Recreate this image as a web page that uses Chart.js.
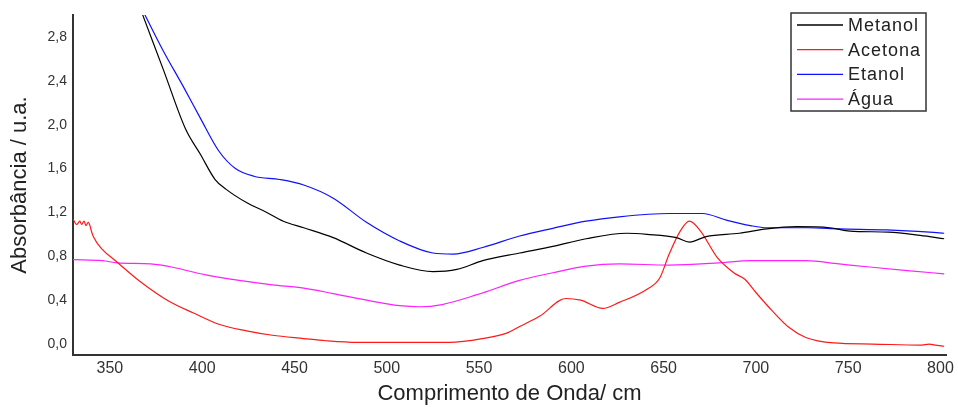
<!DOCTYPE html>
<html>
<head>
<meta charset="utf-8">
<script src="https://cdn.jsdelivr.net/npm/chart.js@4"></script>
<style>
  html, body { margin: 0; padding: 0; background: #fff; }
  canvas { display: block; }
</style>
</head>
<body>
<canvas id="uvChart" width="958" height="407"></canvas>
<script>
// Espectros UV-Vis por solvente (nm, absorbância)
const metanolNm = [360, 368, 379, 391, 399, 407, 413, 424, 435, 444, 455, 471, 489, 507, 525, 538, 552, 572, 590, 608, 630, 641, 657, 664, 673, 691, 706, 722, 740, 751, 772, 789, 802];
const metanolAbs = [3.35, 2.99, 2.50, 1.96, 1.73, 1.50, 1.41, 1.29, 1.20, 1.12, 1.06, 0.97, 0.83, 0.72, 0.66, 0.68, 0.76, 0.83, 0.89, 0.96, 1.01, 1.00, 0.97, 0.93, 0.98, 1.01, 1.05, 1.07, 1.06, 1.03, 1.02, 0.99, 0.96];

const acetonaNm = [330, 332, 333.7, 334.7, 336, 337, 338.2, 339.2, 339.8, 341, 346, 353, 366, 382, 395, 409, 424, 438, 455, 467, 484, 534, 552, 565, 572, 583, 597, 605, 617, 626, 641, 648, 653, 659, 664, 670, 679, 688, 694, 700, 709, 718, 727, 742, 763, 789, 794, 797, 802];
const acetonaAbs = [1.14, 1.09, 1.12, 1.09, 1.12, 1.08, 1.11, 1.08, 1.04, 0.98, 0.86, 0.76, 0.575, 0.39, 0.285, 0.18, 0.12, 0.08, 0.05, 0.03, 0.015, 0.015, 0.05, 0.10, 0.16, 0.255, 0.415, 0.40, 0.325, 0.38, 0.50, 0.605, 0.82, 1.03, 1.12, 1.03, 0.79, 0.65, 0.59, 0.47, 0.30, 0.15, 0.06, 0.01, 0.0, -0.01, 0.0, -0.01, -0.02];

const etanolNm = [360, 369, 379, 390, 399, 409, 418, 428, 442, 455, 471, 489, 507, 525, 536, 552, 572, 590, 608, 626, 653, 671, 684, 697, 706, 728, 745, 771, 794, 802];
const etanolAbs = [3.30, 3.00, 2.67, 2.34, 2.06, 1.76, 1.60, 1.53, 1.50, 1.45, 1.33, 1.11, 0.94, 0.83, 0.82, 0.88, 0.985, 1.055, 1.12, 1.16, 1.19, 1.19, 1.13, 1.08, 1.06, 1.06, 1.05, 1.04, 1.02, 1.01];

const aguaNm = [330, 346, 354, 372, 384, 402, 420, 438, 455, 471, 489, 507, 518, 530, 549, 572, 590, 608, 626, 653, 680, 697, 727, 745, 763, 782, 802];
const aguaAbs = [0.77, 0.76, 0.74, 0.73, 0.70, 0.63, 0.58, 0.54, 0.51, 0.46, 0.40, 0.35, 0.34, 0.36, 0.45, 0.58, 0.65, 0.71, 0.73, 0.72, 0.74, 0.76, 0.76, 0.73, 0.70, 0.67, 0.64];

const toPoints = (xs, ys) => xs.map((x, i) => ({ x: x, y: ys[i] }));

// legenda com moldura dentro da área do gráfico
const boxLegend = {
  id: 'boxLegend',
  afterDraw(chart) {
    const ctx = chart.ctx;
    const x0 = 791, y0 = 13, w = 135, h = 98;
    ctx.save();
    ctx.fillStyle = '#fff';
    ctx.fillRect(x0, y0, w, h);
    ctx.strokeStyle = '#333';
    ctx.lineWidth = 1.5;
    ctx.strokeRect(x0, y0, w, h);
    ctx.font = '18px "Liberation Sans", Arial, sans-serif';
    ctx.letterSpacing = '1px';
    ctx.textBaseline = 'middle';
    chart.data.datasets.forEach((ds, i) => {
      const y = 25 + i * 24.7;
      ctx.strokeStyle = ds.borderColor;
      ctx.lineWidth = 1.3;
      ctx.beginPath();
      ctx.moveTo(797, y);
      ctx.lineTo(843, y);
      ctx.stroke();
      ctx.fillStyle = '#222';
      ctx.fillText(ds.label, 848, y + 1);
    });
    ctx.restore();
  }
};

const ctx = document.getElementById('uvChart').getContext('2d');
new Chart(ctx, {
  type: 'line',
  data: {
    datasets: [
      { label: 'Metanol', data: toPoints(metanolNm, metanolAbs), borderColor: '#000000' },
      { label: 'Acetona', data: toPoints(acetonaNm, acetonaAbs), borderColor: '#ff1a1a' },
      { label: 'Etanol', data: toPoints(etanolNm, etanolAbs), borderColor: '#1010ff' },
      { label: 'Água', data: toPoints(aguaNm, aguaAbs), borderColor: '#ff22ff' }
    ]
  },
  options: {
    responsive: false,
    animation: false,
    layout: { padding: { top: 15, right: 12, left: 0, bottom: 0 } },
    elements: {
      point: { radius: 0 },
      line: { borderWidth: 1.2, cubicInterpolationMode: 'monotone' }
    },
    scales: {
      x: {
        type: 'linear',
        min: 330,
        max: 803,
        grid: { display: false, drawTicks: false },
        border: { display: true, color: '#333', width: 2 },
        ticks: {
          stepSize: 50,
          includeBounds: false,
          padding: 4,
          color: '#333',
          font: { family: '"Liberation Sans", Arial, sans-serif', size: 16 },
          callback: (v) => String(v)
        },
        title: {
          display: true,
          text: 'Comprimento de Onda/ cm',
          color: '#222',
          padding: 0,
          font: { family: '"Liberation Sans", Arial, sans-serif', size: 22 }
        },
        afterFit(scale) { scale.height = 52; }
      },
      y: {
        min: -0.1,
        max: 3.0,
        grid: { display: false, drawTicks: false },
        border: { display: true, color: '#333', width: 2 },
        ticks: {
          stepSize: 0.4,
          includeBounds: false,
          padding: 6,
          color: '#333',
          font: { family: '"Liberation Sans", Arial, sans-serif', size: 14 },
          callback: (v) => v.toFixed(1).replace('.', ',')
        },
        title: {
          display: true,
          text: 'Absorbância / u.a.',
          color: '#222',
          padding: { top: 7, bottom: 0 },
          font: { family: '"Liberation Sans", Arial, sans-serif', size: 22 }
        },
        afterFit(scale) { scale.width = 73; }
      }
    },
    plugins: {
      legend: { display: false },
      tooltip: { enabled: false }
    }
  },
  plugins: [boxLegend]
});
</script>
</body>
</html>
